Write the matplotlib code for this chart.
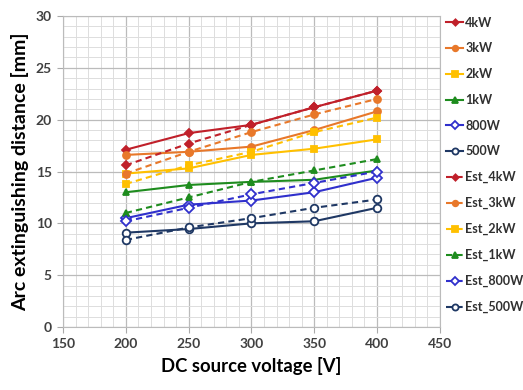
import matplotlib
matplotlib.use("Agg")
import matplotlib.pyplot as plt
from matplotlib.ticker import MultipleLocator

voltage = [200, 250, 300, 350, 400]

meas_4kw = [17.1, 18.7, 19.5, 21.2, 22.8]
meas_3kw = [16.6, 16.9, 17.4, 19.0, 20.8]
meas_2kw = [14.8, 15.3, 16.6, 17.2, 18.1]
meas_1kw = [13.0, 13.7, 14.0, 14.2, 15.1]
meas_800w = [10.5, 11.8, 12.2, 13.0, 14.4]
meas_500w = [9.1, 9.45, 10.0, 10.2, 11.5]

est_4kw = [15.6, 17.7, 19.5, 21.2, 22.8]
est_3kw = [14.8, 16.9, 18.8, 20.5, 22.0]
est_2kw = [13.8, 15.6, 16.9, 18.8, 20.2]
est_1kw = [11.0, 12.5, 14.0, 15.1, 16.2]
est_800w = [10.2, 11.5, 12.8, 13.9, 15.0]
est_500w = [8.4, 9.6, 10.5, 11.5, 12.3]

labels = ["4kW", "3kW", "2kW", "1kW", "800W", "500W"]
colors = ["#C0202A", "#E8782A", "#FFC000", "#1E8C1E", "#3030CC", "#1F3864"]
markers = ["D", "o", "s", "^", "D", "o"]
msizes = [4, 5, 5, 5, 5, 5.5]
filled = [True, True, True, True, False, False]

meas = [meas_4kw, meas_3kw, meas_2kw, meas_1kw, meas_800w, meas_500w]
est = [est_4kw, est_3kw, est_2kw, est_1kw, est_800w, est_500w]

plt.rcParams['font.family'] = ['Lato', 'DejaVu Sans']

fig = plt.figure(figsize=(5.23, 3.90), dpi=100)
ax = fig.add_axes([0.1205, 0.1615, 0.7205, 0.7975])

def style(i):
    return dict(color=colors[i], marker=markers[i], markersize=msizes[i],
                markerfacecolor=colors[i] if filled[i] else "white",
                markeredgecolor=colors[i], markeredgewidth=1.3)

for i in range(6):
    ax.plot(voltage, meas[i], linestyle="-", linewidth=1.5, label=labels[i], **style(i))
for i in range(6):
    ax.plot(voltage, est[i], linestyle="--", linewidth=1.5, dashes=(3, 2),
            label="Est_" + labels[i], **style(i))

ax.set_xlim(150, 450)
ax.set_ylim(0, 30)
ax.xaxis.set_major_locator(MultipleLocator(50))
ax.xaxis.set_minor_locator(MultipleLocator(10))
ax.yaxis.set_major_locator(MultipleLocator(5))
ax.yaxis.set_minor_locator(MultipleLocator(1))
ax.grid(which="major", color="#BBBBBB", linewidth=0.9)
ax.grid(which="minor", color="#DDDDDD", linewidth=0.7)
ax.set_axisbelow(True)
ax.tick_params(which="major", length=4, width=0.8, color="#AAAAAA",
               labelsize=10, labelcolor="#404040", pad=4)
ax.tick_params(which="minor", length=0)
for lab in ax.get_xticklabels() + ax.get_yticklabels():
    lab.set_fontweight("bold")
for s in ax.spines.values():
    s.set_color("#BBBBBB")

ax.set_xlabel("DC source voltage [V]", fontsize=13.3, fontweight="bold", labelpad=5)
ax.set_ylabel("Arc extinguishing distance [mm]", fontsize=14, fontweight="bold", labelpad=5)

leg = fig.legend(loc="upper left", bbox_to_anchor=(0.843, 0.97), frameon=False,
                 fontsize=9, handlelength=1.4, handletextpad=0.15,
                 labelspacing=1.1, borderaxespad=0, markerscale=0.8)
for t in leg.get_texts():
    t.set_fontweight("bold")
    t.set_color("#303030")

fig.savefig("out.png", dpi=100)
